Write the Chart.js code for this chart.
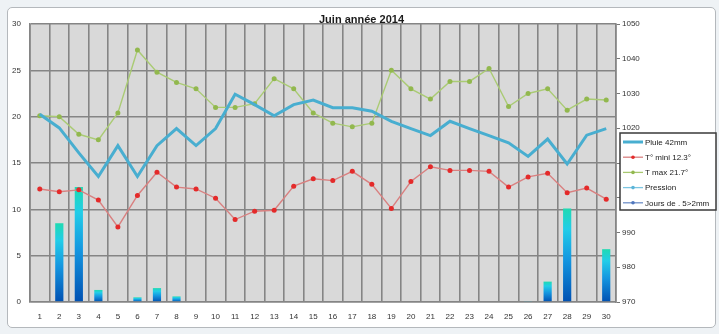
<!DOCTYPE html>
<html>
<head>
<meta charset="utf-8">
<script src="https://cdn.jsdelivr.net/npm/chart.js@4.4.0/dist/chart.umd.min.js"></script>
<style>
  html, body { margin: 0; padding: 0; width: 719px; height: 334px; overflow: hidden; background: #eef2f5; }
  #frame { position: absolute; left: 7px; top: 7px; width: 707px; height: 319px; background: #fff; border: 1px solid #b4b8bc; border-radius: 5px; }
  #wrap { position: absolute; left: 0; top: 0; width: 719px; height: 334px; }
</style>
</head>
<body>
<div id="frame"></div>
<div id="wrap"><canvas id="myChart" width="719" height="334"></canvas></div>
<script>
// days of the month
const days = ['1', '2', '3', '4', '5', '6', '7', '8', '9', '10', '11', '12', '13', '14', '15',
  '16', '17', '18', '19', '20', '21', '22', '23', '24', '25', '26', '27', '28', '29', '30'];

// rain in mm (bars, left axis)
const rain = [0, 8.5, 12.4, 1.3, 0, 0.5, 1.5, 0.6, 0, 0, 0, 0, 0, 0, 0,
  0, 0, 0, 0, 0, 0, 0, 0, 0, 0, 0.1, 2.2, 10.1, 0, 5.7];

// pressure hPa (thick line, right axis)
const pressure = [1024.0, 1020.1, 1012.9, 1006.1, 1015.0, 1006.1, 1015.0, 1019.9, 1015.0, 1019.9,
  1029.8, 1026.8, 1023.6, 1026.8, 1028.1, 1025.9, 1025.9, 1024.9, 1022.0, 1019.9,
  1017.9, 1022.0, 1019.9, 1017.9, 1015.8, 1011.9, 1016.9, 1009.7, 1018.0, 1019.9];

// temperatures (left axis)
const tMin = [12.2, 11.9, 12.1, 11.0, 8.1, 11.5, 14.0, 12.4, 12.2, 11.2,
  8.9, 9.8, 9.9, 12.5, 13.3, 13.1, 14.1, 12.7, 10.1, 13.0,
  14.6, 14.2, 14.2, 14.1, 12.4, 13.5, 13.9, 11.8, 12.3, 11.1];
const tMax = [20.1, 20.0, 18.1, 17.5, 20.4, 27.2, 24.8, 23.7, 23.0, 21.0,
  21.0, 21.4, 24.1, 23.0, 20.4, 19.3, 18.9, 19.3, 25.0, 23.0,
  21.9, 23.8, 23.8, 25.2, 21.1, 22.5, 23.0, 20.7, 21.9, 21.8];

const chartTitle = 'Juin année 2014';
const legendLabels = ['Pluie 42mm', 'T° mini 12.3°', 'T max 21.7°', 'Pression', 'Jours de . 5>2mm'];

const FONT = "'Liberation Sans', Arial, sans-serif";
const GRID = '#858585';

function rainGradient(c) {
  const chart = c.chart;
  if (!chart.chartArea || c.raw === undefined) return '#1590e0';
  const y = chart.scales.y;
  const top = y.getPixelForValue(c.raw);
  const base = y.getPixelForValue(0);
  if (base - top < 1) return '#22c0e0';
  const g = chart.ctx.createLinearGradient(0, top, 0, base);
  g.addColorStop(0, '#1fdab2');
  g.addColorStop(0.22, '#22cde8');
  g.addColorStop(0.55, '#1496e0');
  g.addColorStop(1, '#0050b2');
  return g;
}

// grey plot background
const plotBg = {
  id: 'plotBg',
  beforeDraw(chart) {
    const a = chart.chartArea;
    const ctx = chart.ctx;
    ctx.save();
    ctx.fillStyle = '#d9d9d9';
    ctx.fillRect(a.left, a.top, a.right - a.left, a.bottom - a.top);
    ctx.restore();
  }
};

// title drawn over the top edge like the excel one
const titlePlugin = {
  id: 'titlePlugin',
  afterDraw(chart) {
    const ctx = chart.ctx;
    ctx.save();
    ctx.font = 'bold 11px ' + FONT;
    ctx.fillStyle = '#1a1a1a';
    ctx.textAlign = 'center';
    ctx.textBaseline = 'middle';
    ctx.fillText(chartTitle, chart.width / 2 + 2, chart.chartArea.top - 4);
    ctx.restore();
  }
};

// boxed legend on the right
const boxLegend = {
  id: 'boxLegend',
  afterDraw(chart) {
    const ctx = chart.ctx;
    const a = chart.chartArea;
    const x = a.right + 4, y = a.top + 109, w = 96, h = 77;
    const styles = [
      { color: '#48aed0', width: 3, dot: null },
      { color: '#d98080', width: 1.3, dot: '#e42a2a' },
      { color: '#a8c870', width: 1.3, dot: '#92b84e' },
      { color: '#7cc6e2', width: 1.3, dot: '#5bb4d8' },
      { color: '#6f8fc8', width: 1.3, dot: '#4f76bd' }
    ];
    ctx.save();
    ctx.fillStyle = '#fff';
    ctx.fillRect(x, y, w, h);
    ctx.strokeStyle = '#3a3a3a';
    ctx.lineWidth = 1.5;
    ctx.strokeRect(x, y, w, h);
    ctx.font = '8px ' + FONT;
    ctx.textBaseline = 'middle';
    ctx.textAlign = 'left';
    legendLabels.forEach((label, i) => {
      const s = styles[i];
      const ly = y + 9 + i * 15.2;
      ctx.strokeStyle = s.color;
      ctx.lineWidth = s.width;
      ctx.beginPath();
      ctx.moveTo(x + 3, ly);
      ctx.lineTo(x + 23, ly);
      ctx.stroke();
      if (s.dot) {
        ctx.fillStyle = s.dot;
        ctx.beginPath();
        ctx.arc(x + 13, ly, 1.8, 0, Math.PI * 2);
        ctx.fill();
      }
      ctx.fillStyle = '#1a1a1a';
      ctx.fillText(label, x + 25, ly + 0.5);
    });
    ctx.restore();
  }
};

const ctx = document.getElementById('myChart').getContext('2d');
new Chart(ctx, {
  data: {
    labels: days,
    datasets: [
      {
        type: 'line',
        label: 'Pression',
        data: pressure,
        yAxisID: 'y1',
        borderColor: '#48aed0',
        borderWidth: 3,
        pointRadius: 0,
        tension: 0,
        order: 1
      },
      {
        type: 'line',
        label: 'T mini',
        data: tMin,
        yAxisID: 'y',
        borderColor: '#d98080',
        borderWidth: 1.4,
        pointRadius: 2.5,
        pointBorderWidth: 0,
        pointBackgroundColor: '#e42a2a',
        tension: 0,
        order: 2
      },
      {
        type: 'line',
        label: 'T max',
        data: tMax,
        yAxisID: 'y',
        borderColor: '#aacb74',
        borderWidth: 1.4,
        pointRadius: 2.5,
        pointBorderWidth: 0,
        pointBackgroundColor: '#92b84e',
        tension: 0,
        order: 3
      },
      {
        type: 'bar',
        label: 'Pluie',
        data: rain,
        yAxisID: 'y',
        backgroundColor: rainGradient,
        barPercentage: 0.42,
        categoryPercentage: 1,
        order: 5
      }
    ]
  },
  options: {
    responsive: false,
    devicePixelRatio: 1,
    animation: false,
    layout: { padding: { top: 24, left: 0, right: 0, bottom: 0 } },
    plugins: {
      legend: { display: false },
      title: { display: false },
      tooltip: { enabled: false }
    },
    scales: {
      x: {
        type: 'category',
        offset: true,
        grid: { offset: true, color: GRID, lineWidth: 1.6, drawTicks: false },
        border: { color: GRID, width: 1.6 },
        ticks: { padding: 10, color: '#333', font: { size: 8, family: FONT }, maxRotation: 0, autoSkip: false },
        afterFit(s) { s.height = 32; }
      },
      y: {
        position: 'left',
        min: 0,
        max: 30,
        grid: { color: GRID, lineWidth: 1.6, drawTicks: false },
        border: { color: GRID, width: 1.6 },
        ticks: { stepSize: 5, padding: 9, color: '#333', font: { size: 8, family: FONT } },
        afterFit(s) { s.width = 30; }
      },
      y1: {
        position: 'right',
        min: 970,
        max: 1050,
        grid: { drawOnChartArea: false, color: '#777', tickLength: 4 },
        border: { color: GRID, width: 1.6 },
        ticks: { stepSize: 10, padding: 2, color: '#333', font: { size: 8, family: FONT }, callback: (v) => String(v) },
        afterFit(s) { s.width = 103; }
      }
    }
  },
  plugins: [plotBg, titlePlugin, boxLegend]
});
</script>
</body>
</html>
